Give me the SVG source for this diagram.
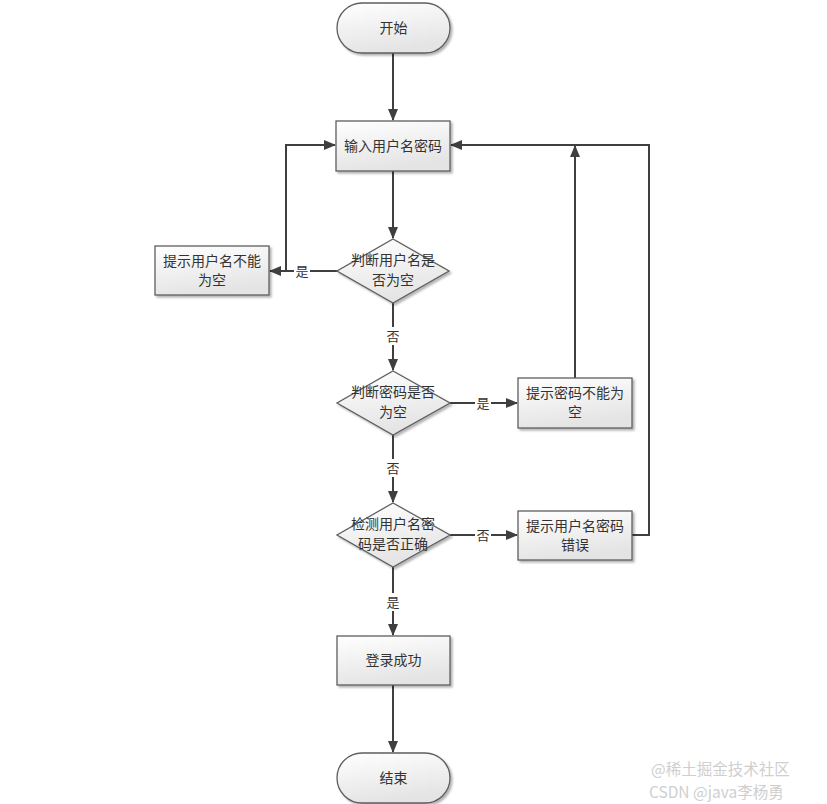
<svg xmlns="http://www.w3.org/2000/svg" width="827" height="804" viewBox="0 0 827 804">
<defs>
<linearGradient id="g" x1="0" y1="0" x2="0.3" y2="1">
<stop offset="0" stop-color="#ffffff"/>
<stop offset="1" stop-color="#e4e4e4"/>
</linearGradient>
<filter id="sh" x="-10%" y="-10%" width="130%" height="130%">
<feGaussianBlur in="SourceAlpha" stdDeviation="1.2"/>
<feOffset dx="2" dy="2" result="b"/>
<feComponentTransfer><feFuncA type="linear" slope="0.3"/></feComponentTransfer>
<feMerge><feMergeNode/><feMergeNode in="SourceGraphic"/></feMerge>
</filter>
<marker id="ah" markerWidth="12" markerHeight="10" refX="11" refY="5" orient="auto" markerUnits="userSpaceOnUse">
<path d="M0,0 L12,5 L0,10 Z" fill="#3f3f3f"/>
</marker>
</defs>
<style>
.shape{fill:url(#g);stroke:#5e5e5e;stroke-width:1.3;filter:url(#sh)}
.t{font-family:"Noto Sans CJK SC","Liberation Serif",serif;font-size:14px;fill:#333;text-anchor:middle}
.lbl{font-family:"Noto Sans CJK SC","Liberation Serif",serif;font-size:13px;fill:#333;text-anchor:middle}
.c{fill:none;stroke:#3f3f3f;stroke-width:2}
.wm{font-family:"Noto Sans CJK SC","Liberation Sans",sans-serif;font-size:15.5px;fill:#cfcfcf}
</style>
<rect width="827" height="804" fill="#ffffff"/>

<g id="connectors">
<line class="c" x1="393" y1="53" x2="393" y2="120" marker-end="url(#ah)"/>
<line class="c" x1="393" y1="171" x2="393" y2="238" marker-end="url(#ah)"/>
<polyline class="c" points="337,271 286,271 286,145 335,145" marker-end="url(#ah)"/>
<line class="c" x1="310" y1="271" x2="270" y2="271" marker-end="url(#ah)"/>
<line class="c" x1="393" y1="303" x2="393" y2="370" marker-end="url(#ah)"/>
<line class="c" x1="450" y1="403" x2="517" y2="403" marker-end="url(#ah)"/>
<line class="c" x1="575" y1="378" x2="575" y2="146" marker-end="url(#ah)"/>
<line class="c" x1="393" y1="435" x2="393" y2="502" marker-end="url(#ah)"/>
<line class="c" x1="450" y1="535" x2="517" y2="535" marker-end="url(#ah)"/>
<polyline class="c" points="632,535 649,535 649,145 451,145" marker-end="url(#ah)"/>
<line class="c" x1="393" y1="567" x2="393" y2="635" marker-end="url(#ah)"/>
<line class="c" x1="393" y1="685" x2="393" y2="752" marker-end="url(#ah)"/>
<rect x="294" y="262" width="16" height="18" fill="#fff"/>
<text class="lbl" x="302" y="276">是</text>
<rect x="385" y="327" width="16" height="18" fill="#fff"/>
<text class="lbl" x="393" y="341">否</text>
<rect x="475" y="394" width="16" height="18" fill="#fff"/>
<text class="lbl" x="483" y="408">是</text>
<rect x="385" y="459" width="16" height="18" fill="#fff"/>
<text class="lbl" x="393" y="473">否</text>
<rect x="475" y="526" width="16" height="18" fill="#fff"/>
<text class="lbl" x="483" y="540">否</text>
<rect x="385" y="593" width="16" height="18" fill="#fff"/>
<text class="lbl" x="393" y="607">是</text>
</g>

<g id="start">
<rect class="shape" x="337" y="3" width="113" height="50" rx="25" ry="25"/>
<text class="t" x="393.5" y="33">开始</text>
</g>
<g id="input">
<rect class="shape" x="336" y="121" width="114" height="50"/>
<text class="t" x="393" y="151">输入用户名密码</text>
</g>
<g id="check-username">
<polygon class="shape" points="393,239 449,271 393,303 337,271"/>
<text class="t" x="393" y="265">判断用户名是</text>
<text class="t" x="393" y="285">否为空</text>
</g>
<g id="username-empty">
<rect class="shape" x="155" y="246" width="114" height="49"/>
<text class="t" x="212" y="266">提示用户名不能</text>
<text class="t" x="212" y="285">为空</text>
</g>
<g id="check-password">
<polygon class="shape" points="393,371 450,403 393,435 337,403"/>
<text class="t" x="393" y="397">判断密码是否</text>
<text class="t" x="393" y="417">为空</text>
</g>
<g id="password-empty">
<rect class="shape" x="518" y="378" width="114" height="50"/>
<text class="t" x="575" y="398">提示密码不能为</text>
<text class="t" x="575" y="417">空</text>
</g>
<g id="check-credentials">
<polygon class="shape" points="393,503 450,535 393,567 337,535"/>
<text class="t" x="393" y="529">检测用户名密</text>
<text class="t" x="393" y="549">码是否正确</text>
</g>
<g id="credentials-wrong">
<rect class="shape" x="518" y="511" width="114" height="49"/>
<text class="t" x="575" y="531">提示用户名密码</text>
<text class="t" x="575" y="550">错误</text>
</g>
<g id="login-success">
<rect class="shape" x="337" y="636" width="113" height="49"/>
<text class="t" x="393.5" y="665">登录成功</text>
</g>
<g id="end">
<rect class="shape" x="337" y="753" width="113" height="50" rx="25" ry="25"/>
<text class="t" x="393.5" y="783">结束</text>
</g>

<g id="watermark">
<text class="wm" x="651" y="775">@稀土掘金技术社区</text>
<text class="wm" x="649" y="798">CSDN @java李杨勇</text>
</g>
</svg>
